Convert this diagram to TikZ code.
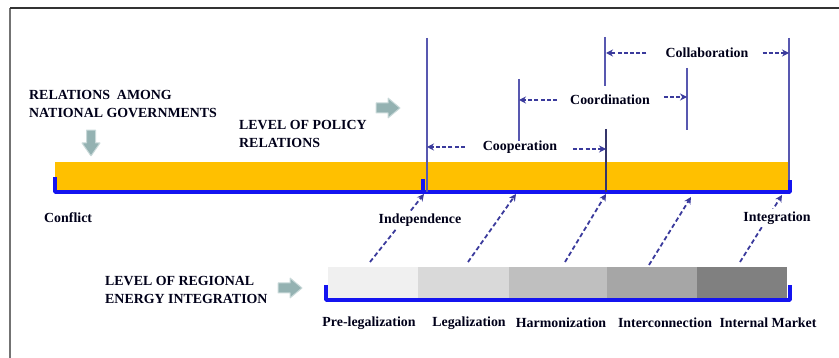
\documentclass[tikz,border=0pt]{standalone}
\usepackage{fontspec}
\setmainfont{Liberation Serif}
\usetikzlibrary{arrows.meta}

\definecolor{barorange}{HTML}{FFC000}
\definecolor{linkblue}{HTML}{3A3A9C}
\definecolor{tickblue}{HTML}{1414F0}
\definecolor{rulepurple}{HTML}{5858B0}
\definecolor{blockgray}{HTML}{94B2B2}

\tikzset{
  blockarrow/.pic={
    \filldraw[fill=blockgray,draw=blockgray!50!white,line width=1pt]
      (-12,-5) -- (0,-5) -- (0,-10) -- (12,0) -- (0,10) -- (0,5) -- (-12,5) -- cycle;
  }
}

\begin{document}
\begin{tikzpicture}[x=1pt,y=-1pt,line join=bevel,
    lbl/.style={font=\fontsize{13.9}{17.5}\selectfont\bfseries,text=black!90!blue,inner sep=0pt,align=left},
    cover/.style={lbl,fill=white,inner sep=3pt},
    link/.style={draw=linkblue,line width=1.8pt,dash pattern=on 4.5pt off 2.8pt,-{Stealth[length=7pt,width=7pt]}},
    span/.style={link,dash pattern=on 4pt off 2.2pt},
    rule/.style={draw=rulepurple,line width=1.2pt},
    bracket/.style={draw=tickblue,line width=3.4pt}]
    \useasboundingbox (0,0) rectangle (839,358);

    % frame
    \draw[black!55,line width=1.4pt] (10,358) -- (10,8);
    \draw[black!80,line width=1.4pt] (10,8) -- (839,8);

    % policy relations bar
    \fill[barorange] (55,162) rectangle (790,192);
    \draw[bracket] (55,177) -- (55,192) -- (790,192) -- (790,180);
    \draw[bracket] (423,179) -- (423,192);

    % points on the bar
    \coordinate (indep) at (424,194);
    \coordinate (mid1) at (516,194);
    \coordinate (coopR) at (606,194);
    \coordinate (mid2) at (691,197);
    \coordinate (integ) at (782,195);

    % range limits
    \draw[rule] (427,38) -- (427,192);
    \draw[rule] (519,79) -- (519,141);
    \draw[rule] (605,37) -- (605,86);
    \draw[rule,black!40!rulepurple] (606,129) -- (606,192);
    \draw[rule] (687,68) -- (687,130);
    \draw[rule] (789,38) -- (789,180);

    \coordinate (coopL) at (427,147);
    \coordinate (coopE) at (606,149);
    \coordinate (coorL) at (519,100);
    \coordinate (coorE) at (687,97);
    \coordinate (collL) at (606,53);
    \coordinate (collE) at (789,53);

    \node[lbl] (coop) at (520,147) {Cooperation};
    \node[lbl] (coor) at (610,100) {Coordination};
    \node[lbl] (coll) at (707,53) {Collaboration};

    \draw[span,shorten <=18pt] (coop.west) -- (coopL);
    \draw[span,shorten <=16pt] (coop.east |- coopE) -- (coopE);
    \draw[span,shorten <=13pt] (coor.west) -- (coorL);
    \draw[span,shorten <=14pt] (coor.east |- coorE) -- (coorE);
    \draw[span,shorten <=19pt] (coll.west) -- (collL);
    \draw[span,shorten <=14pt] (coll.east) -- (collE);

    % headings
    \node[lbl,anchor=west] (govt) at (29,104) {RELATIONS\ \ AMONG\\NATIONAL GOVERNMENTS};
    \node[lbl,anchor=west] (policy) at (239,134) {LEVEL OF POLICY\\RELATIONS};
    \node[lbl,anchor=west] (energy) at (105,290) {LEVEL OF REGIONAL\\ENERGY INTEGRATION};

    \pic[rotate=-90,xscale=1.08,yscale=0.9] at (91,143) {blockarrow};
    \pic at (388,108) {blockarrow};
    \pic at (290,288) {blockarrow};

    % energy integration steps
    \fill[black!6] (328,267) rectangle (418,298);
    \fill[black!15] (418,267) rectangle (509,298);
    \fill[black!25] (509,267) rectangle (607,298);
    \fill[black!35] (607,267) rectangle (697,298);
    \fill[black!50] (697,267) rectangle (787,298);
    \draw[bracket] (326,285) -- (326,300) -- (790,300) -- (790,285);

    \coordinate (s1) at (370,262);
    \coordinate (s2) at (468,262);
    \coordinate (s3) at (565,262);
    \coordinate (s4) at (649,265);
    \coordinate (s5) at (740,262);

    \draw[link] (s1) -- (indep);
    \draw[link] (s2) -- (mid1);
    \draw[link] (s3) -- (coopR);
    \draw[link] (s4) -- (mid2);
    \draw[link] (s5) -- (integ);

    \node[lbl,anchor=west] (conflict) at (44,218) {Conflict};
    \node[cover] (independence) at (420,220) {Independence};
    \node[cover] (integration) at (777,218) {Integration};

    \node[lbl] (prelegal) at (369,323) {Pre-legalization};
    \node[lbl] (legal) at (469,323) {Legalization};
    \node[lbl] (harmon) at (561,323) {Harmonization};
    \node[lbl] (interc) at (665,323) {Interconnection};
    \node[lbl] (market) at (768,323) {Internal Market};
\end{tikzpicture}
\end{document}
